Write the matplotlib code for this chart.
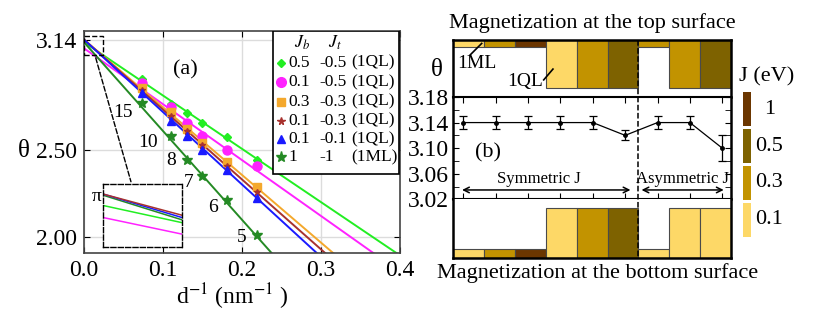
import matplotlib.pyplot as plt
import matplotlib.transforms as mtransforms
from matplotlib.patches import Rectangle
from matplotlib.lines import Line2D
import numpy as np

plt.rcParams['font.family'] = ['Liberation Serif', 'DejaVu Serif']
plt.rcParams['mathtext.fontset'] = 'stix'

# ---------------- panel (a) data ----------------
inv_d = [0.073, 0.110, 0.130, 0.149, 0.181, 0.219]
layers = [15, 10, 8, 7, 6, 5]

theta_05_05 = [2.915, 2.771, 2.716, 2.658, 2.577, 2.446]
theta_01_05 = [2.890, 2.750, 2.660, 2.585, 2.505, 2.407]
theta_03_03 = [2.862, 2.720, 2.626, 2.545, 2.435, 2.290]
theta_01_03 = [2.850, 2.700, 2.612, 2.532, 2.410, 2.258]
theta_01_01 = [2.832, 2.672, 2.585, 2.505, 2.387, 2.226]
theta_1_1 = [2.774, 2.585, 2.446, 2.350, 2.212, 2.009]

# linear fits, value at d^-1 = 0 and 0.4
fit_x = [0.0, 0.4]
fit_05_05 = [3.125, 1.893]
fit_01_05 = [3.090, 1.798]
fit_03_03 = [3.140, 1.576]
fit_01_03 = [3.140, 1.524]
fit_01_01 = [3.140, 1.466]
fit_1_1 = [3.125, 1.073]

# zoomed inset near d^-1 = 0
inset_x = [0.0, 0.0245]
inset_05_05 = [3.123, 3.093]
inset_01_05 = [3.102, 3.073]
inset_01_03 = [3.143, 3.106]
inset_01_01 = [3.143, 3.102]
inset_1_1 = [3.141, 3.098]

jb = ['0.5', '0.1', '0.3', '0.1', '0.1', '1']
jt = ['-0.5', '-0.5', '-0.3', '-0.3', '-0.1', '-1']
kind = ['(1QL)', '(1QL)', '(1QL)', '(1QL)', '(1QL)', '(1ML)']

# ---------------- panel (b) data ----------------
config = [1, 2, 3, 4, 5, 6, 7, 8, 9]
theta_b = [3.14, 3.14, 3.14, 3.14, 3.14, 3.12, 3.14, 3.14, 3.10]
err_b = [0.01, 0.01, 0.01, 0.01, 0.01, 0.008, 0.01, 0.01, 0.02]
top_J = [0.1, 0.3, 1, 0.1, 0.3, 0.5, 0.3, 0.3, 0.5]
top_layer = ['1ML', '1ML', '1ML', '1QL', '1QL', '1QL', '1ML', '1QL', '1QL']
bot_J = [0.1, 0.3, 1, 0.1, 0.3, 0.5, 0.1, 0.1, 0.1]
bot_layer = ['1ML', '1ML', '1ML', '1QL', '1QL', '1QL', '1ML', '1QL', '1QL']
J_levels = [1, 0.5, 0.3, 0.1]

J_color = {0.1: '#fdd867', 0.3: '#c29300', 0.5: '#7e6200', 1: '#6b3600'}

W, H = 814, 324
fig = plt.figure(figsize=(W / 100, H / 100), dpi=100)


def fx(px):
    return px / W


def fy(py):
    return 1 - py / H


# ================= panel (a) =================
ax = fig.add_axes([fx(84), fy(253), fx(400) - fx(84), fy(31) - fy(253)])
ax.set_xlim(0, 0.4)
ax.set_ylim(1.907, 3.19)

colors = ['#22ee22', '#ff22ff', '#f4a82c', '#a8322e', '#1a1aff', '#248a24']
markers = ['D', 'o', 's', '*', '^', '*']
msizes = [3.8, 6.5, 5.2, 5, 5.5, 7.5]
thetas = [theta_05_05, theta_01_05, theta_03_03, theta_01_03, theta_01_01, theta_1_1]
fits = [fit_05_05, fit_01_05, fit_03_03, fit_01_03, fit_01_01, fit_1_1]

for th, ft, c, m, s in zip(thetas, fits, colors, markers, msizes):
    ax.plot(fit_x, ft, color=c, lw=1.4, zorder=2)
    ax.plot(inv_d, th, ls='none', marker=m, ms=s, color=c, zorder=3)

label_off = [(-19, -10), (-23, -7), (-16, -1), (-13, -6), (-14, -7), (-15, -2)]
for x, y, n, off in zip(inv_d, theta_1_1, layers, label_off):
    ax.annotate(str(n), (x, y), xytext=off, textcoords='offset pixels',
                ha='center', va='center', fontsize=14)

ax.set_xticks([0, 0.1, 0.2, 0.3, 0.4])
ax.set_xticklabels(['0.0', '0.1', '0.2', '0.3', '0.4'])
ax.set_yticks([2.0, 2.5, 3.14])
ax.set_yticklabels(['2.00', '2.50', '3.14'])
ax.tick_params(direction='in', top=True, right=True, length=4, labelsize=17, pad=5)
ax.grid(True, color='#dcdcdc', lw=1)
ax.set_axisbelow(True)
for sp in ax.spines.values():
    sp.set_color('#444444')
    sp.set_linewidth(1.2)

ax.text(0.32, 0.824, '(a)', transform=ax.transAxes, fontsize=16,
        ha='center', va='center')

# zoom box and connector
ax.add_patch(Rectangle((0, 3.05), 0.0245, 0.11, fill=False, ls='--', lw=1, ec='black', zorder=4))
ax.annotate('', xy=(0.151, 0.309), xycoords='axes fraction', xytext=(0.0139, 3.05),
            textcoords='data', arrowprops=dict(arrowstyle='-', ls='--', lw=1, color='black'))

axi = ax.inset_axes([0.059, 0.026, 0.25, 0.284])
axi.plot(inset_x, inset_05_05, color=colors[0], lw=1.1)
axi.plot(inset_x, inset_01_05, color=colors[1], lw=1.1)
axi.plot(inset_x, inset_1_1, color=colors[5], lw=1.1)
axi.plot(inset_x, inset_01_01, color=colors[4], lw=1.1)
axi.plot(inset_x, inset_01_03, color=colors[3], lw=1.1)
axi.set_xlim(inset_x)
axi.set_ylim(3.05, 3.16)
axi.set_xticks([])
axi.set_yticks([np.pi])
axi.set_yticklabels(['π'])
axi.tick_params(length=0, labelsize=14, pad=1)
for sp in axi.spines.values():
    sp.set_linestyle('--')
    sp.set_linewidth(1)

# legend box
ax.add_patch(Rectangle((0.598, 0.356), 0.399, 0.644, transform=ax.transAxes,
                       fc='white', ec='black', lw=1.2, zorder=5))
ax.text(0.689, 0.945, '$J_b$', transform=ax.transAxes, fontsize=13, ha='center', va='center', zorder=6)
ax.text(0.794, 0.945, '$J_t$', transform=ax.transAxes, fontsize=13, ha='center', va='center', zorder=6)
row_y = [0.857, 0.769, 0.682, 0.596, 0.514, 0.431]
leg_ms = [4.5, 7, 5.5, 5.5, 5.5, 8]
for y, a, b, k, c, m, s in zip(row_y, jb, jt, kind, colors, markers, leg_ms):
    ax.plot([0.622], [y], marker=m, ms=s, color=c, transform=ax.transAxes, zorder=6, clip_on=False)
    ax.text(0.646, y, a, transform=ax.transAxes, fontsize=12.5, va='center', zorder=6)
    ax.text(0.745, y, b, transform=ax.transAxes, fontsize=12.5, va='center', zorder=6)
    ax.text(0.845, y, k, transform=ax.transAxes, fontsize=12.5, va='center', zorder=6)

fig.text(fx(232), fy(297), 'd$^{-1}$ (nm$^{-1}$ )', fontsize=17, ha='center', va='center')
fig.text(fx(24), fy(151), 'θ', fontsize=18, ha='center', va='center')

# ================= panel (b) =================
bx0, bx1 = fx(453.3), fx(731)
ax_top = fig.add_axes([bx0, fy(97), bx1 - bx0, fy(40) - fy(97)])
ax_mid = fig.add_axes([bx0, fy(199.3), bx1 - bx0, fy(97) - fy(199.3)])
ax_bot = fig.add_axes([bx0, fy(258.3), bx1 - bx0, fy(199.3) - fy(258.3)])

top_h = {'1ML': 0.12, '1QL': 0.84}
bot_h = {'1ML': 0.15, '1QL': 0.85}

ax_top.bar(config, [top_h[l] for l in top_layer], width=1,
           color=[J_color[j] for j in top_J], edgecolor='#4a4a4a', lw=0.8)
ax_top.set_ylim(1, 0)
ax_bot.bar(config, [bot_h[l] for l in bot_layer], width=1,
           color=[J_color[j] for j in bot_J], edgecolor='#4a4a4a', lw=0.8)
ax_bot.set_ylim(0, 1)
for a in (ax_top, ax_bot):
    a.set_xlim(0.5, 9.5)
    a.set_xticks([])
    a.set_yticks([])
    for sp in a.spines.values():
        sp.set_linewidth(1.8)
ax_top.spines['bottom'].set_visible(False)
ax_bot.spines['top'].set_visible(False)

ax_top.text(1.255, 0.41, '1ML', fontsize=14, ha='center', va='center')
ax_top.plot([1.05, 1.42], [0.26, 0.06], color='black', lw=1.2)
ax_top.text(2.83, 0.73, '1QL', fontsize=14, ha='center', va='center')
ax_top.plot([3.43, 3.73], [0.70, 0.51], color='black', lw=1.2)

ax_mid.errorbar(config, theta_b, yerr=err_b, color='black', lw=0.9,
                marker='o', ms=2.5, capsize=3, capthick=0.9, elinewidth=0.9)
ax_mid.set_xlim(0.69, 9.27)
ax_mid.set_ylim(3.02, 3.18)
ax_mid.set_xticks(config)
ax_mid.set_xticklabels([])
ax_mid.set_yticks([3.02, 3.06, 3.10, 3.14, 3.18])
ax_mid.set_yticklabels(['3.02', '3.06', '3.10', '3.14', '3.18'])
ax_mid.set_yticks(np.arange(3.04, 3.18, 0.04), minor=True)
ax_mid.tick_params(which='both', direction='in', top=True, right=True, length=4,
                   labelsize=17, pad=3)
for sp in ax_mid.spines.values():
    sp.set_linewidth(1.5)
ax_mid.spines['left'].set_linewidth(1.8)
ax_mid.spines['right'].set_linewidth(1.8)

ax_mid.text(1.77, 3.092, '(b)', fontsize=16, ha='center', va='center')
ax_mid.annotate('', xy=(0.875, 3.0346), xytext=(6.25, 3.0346),
                arrowprops=dict(arrowstyle='<->', lw=1.1, color='black'))
ax_mid.annotate('', xy=(6.42, 3.0346), xytext=(9.13, 3.0346),
                arrowprops=dict(arrowstyle='<->', lw=1.1, color='black'))
ax_mid.text(3.34, 3.052, 'Symmetric J', fontsize=12, ha='center', va='center')
ax_mid.text(7.78, 3.052, 'Asymmetric J', fontsize=12, ha='center', va='center')

# dashed separator between symmetric and asymmetric cases
sep = mtransforms.blended_transform_factory(ax_top.transData, fig.transFigure)
fig.add_artist(Line2D([6.5, 6.5], [fy(40), fy(258.3)], transform=sep,
                      color='black', ls='--', lw=1.1))

fig.text(fx(592.5), fy(22.7), 'Magnetization at the top surface', fontsize=16,
         ha='center', va='center')
fig.text(fx(597.5), fy(273.3), 'Magnetization at the bottom surface', fontsize=16,
         ha='center', va='center')
fig.text(fx(437), fy(70), 'θ', fontsize=18, ha='center', va='center')

# J colour key
ax_cb = fig.add_axes([fx(742.7), fy(236.7), fx(751) - fx(742.7), fy(92.3) - fy(236.7)])
for i, j in enumerate(J_levels):
    ax_cb.bar(0, 0.925, bottom=i, width=1, color=J_color[j])
    ax_cb.text(2.7, i + 0.46, str(j), fontsize=16, ha='center', va='center', clip_on=False)
ax_cb.set_xlim(-0.5, 0.5)
ax_cb.set_ylim(3.925, 0)
ax_cb.axis('off')
fig.text(fx(766.7), fy(76.7), 'J (eV)', fontsize=16, ha='center', va='center')

fig.savefig('out.png', dpi=100)
